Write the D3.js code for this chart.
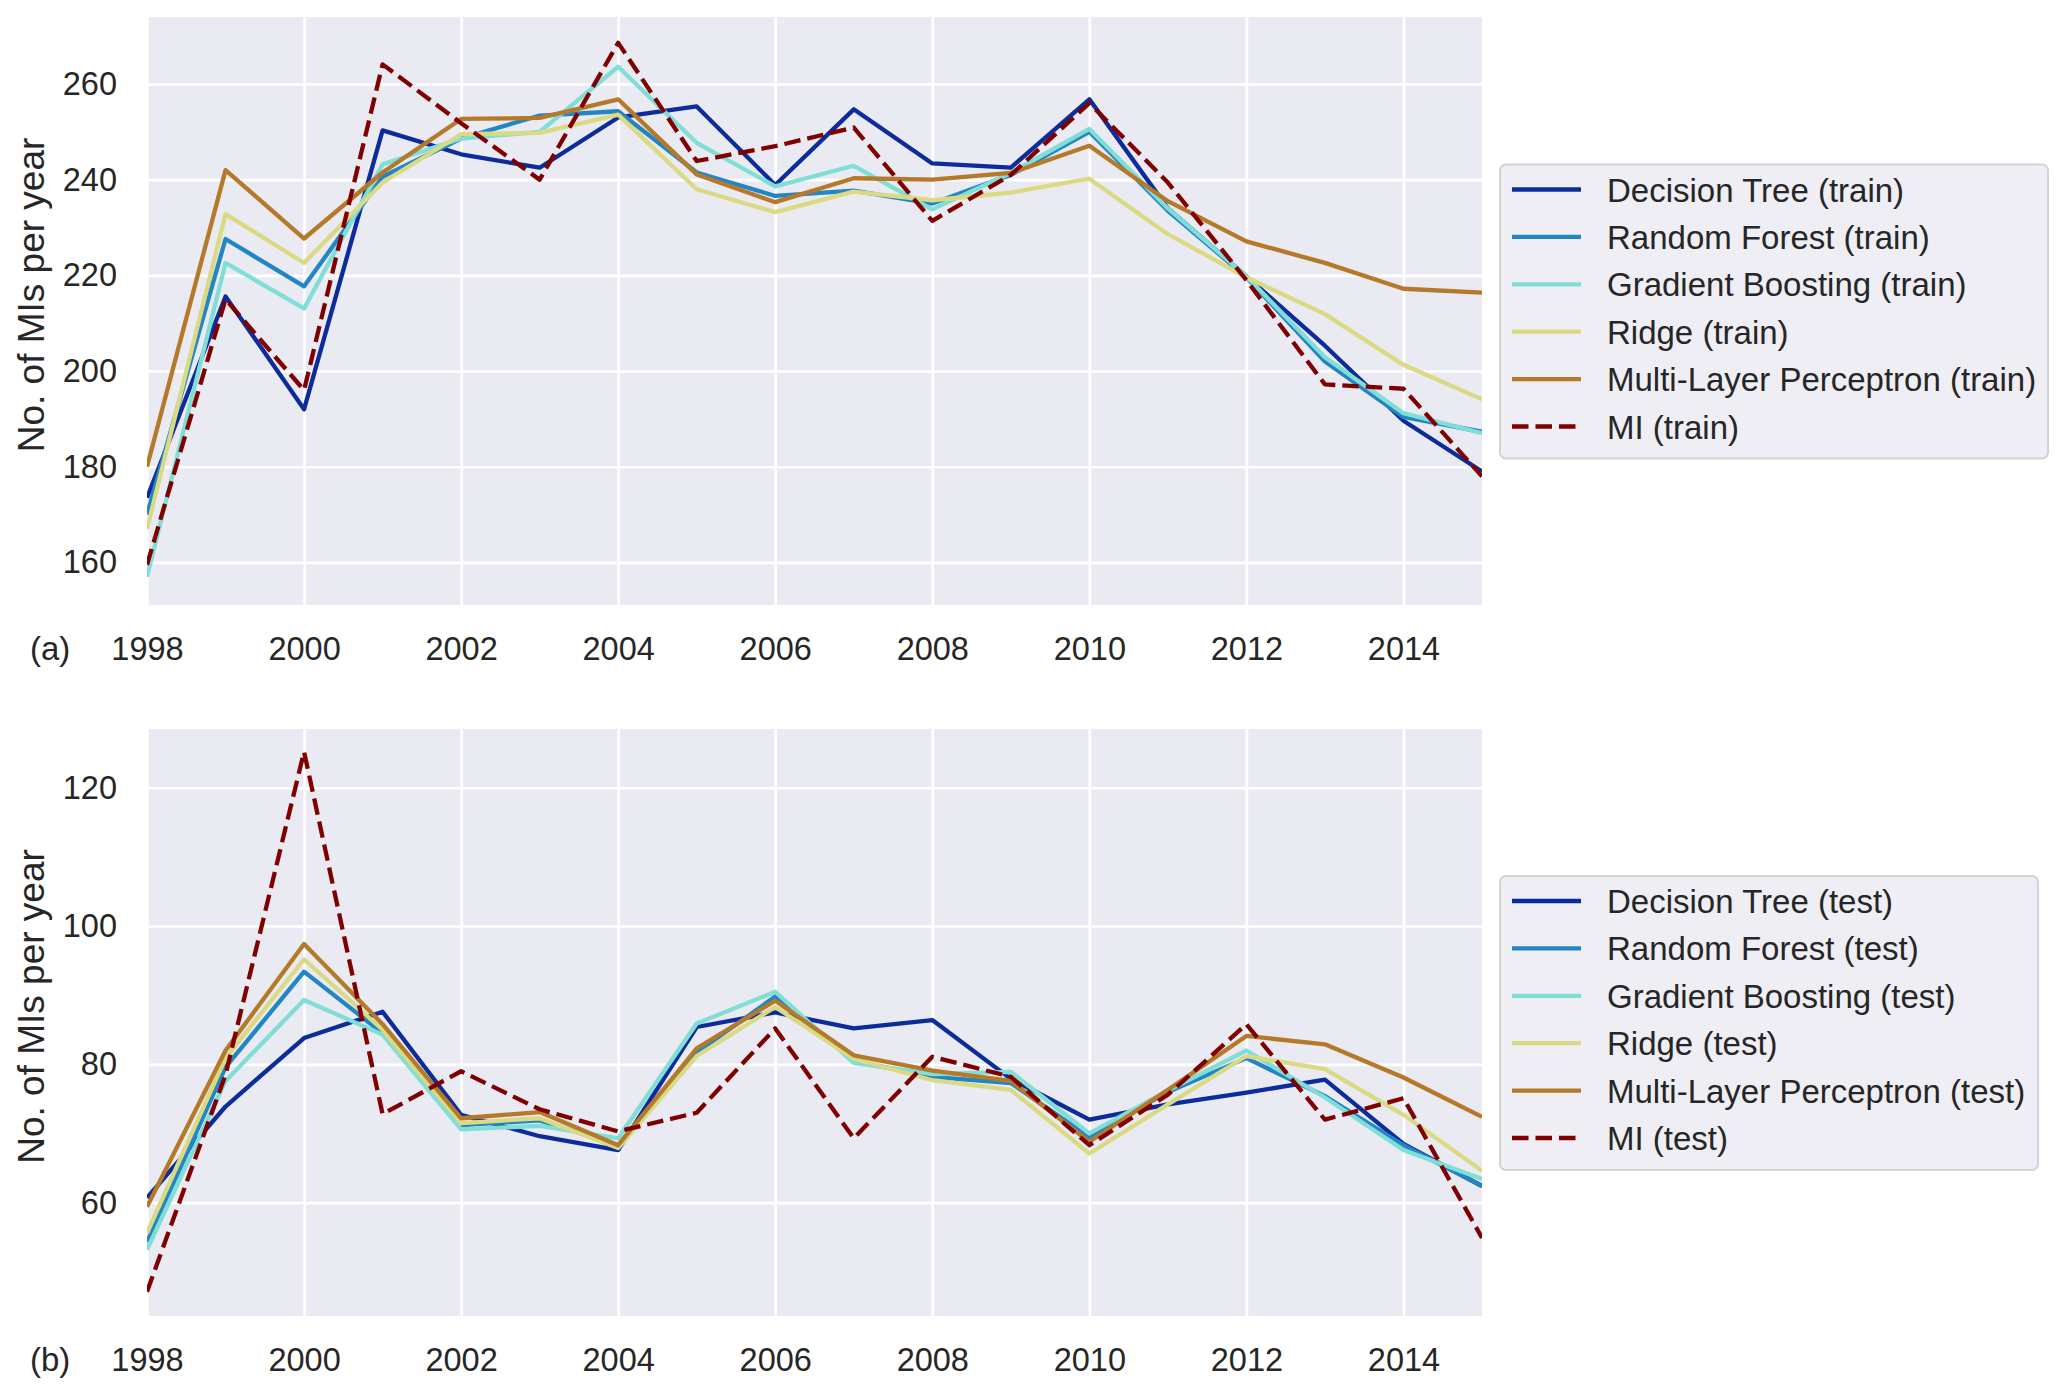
<!DOCTYPE html>
<html>
<head>
<meta charset="utf-8">
<script src="https://cdn.jsdelivr.net/npm/d3@7/dist/d3.min.js"></script>
<style>
  body { margin: 0; background: #fff; }
  svg { display: block; font-family: "Liberation Sans", Arial, sans-serif; }
</style>
</head>
<body>
<svg id="chart" width="2067" height="1392"></svg>
<script>
// years on the x axis
const years = [1998, 1999, 2000, 2001, 2002, 2003, 2004, 2005, 2006, 2007, 2008, 2009, 2010, 2011, 2012, 2013, 2014, 2015];
const xTicks = [1998, 2000, 2002, 2004, 2006, 2008, 2010, 2012, 2014];

const models = ["Decision Tree", "Random Forest", "Gradient Boosting", "Ridge", "Multi-Layer Perceptron", "MI"];

// (a) train
const trainDT    = [173.5, 215.6, 192, 250.3, 245.3, 242.5, 253, 255.3, 238.9, 254.7, 243.4, 242.5, 256.8, 234, 219.8, 205.3, 189.6, 179];
const trainRF    = [170, 227.6, 217.7, 240.6, 248.6, 253.4, 254.3, 241.5, 236.6, 237.7, 235, 241, 250, 233.5, 219.6, 202, 190.4, 187.3];
const trainGB    = [157, 222.6, 213.1, 243.2, 248.6, 250, 263.6, 247.7, 238.6, 242.9, 233.8, 241.4, 250.6, 234, 219.8, 202.9, 191.2, 187];
const trainRidge = [167, 232.8, 222.6, 239.4, 249.5, 249.8, 253.6, 238, 233.2, 237.5, 235.7, 237.3, 240.2, 228.6, 219.6, 211.9, 201.3, 194.1];
const trainMLP   = [180, 242, 227.7, 241.5, 252.7, 252.9, 256.8, 241.1, 235.3, 240.3, 240, 241.4, 247.1, 235.5, 227.1, 222.6, 217.2, 216.4];
const trainMI    = [159.5, 215, 196, 264.1, 251.8, 240, 268.6, 243.9, 247, 250.9, 231.4, 241, 256, 239.4, 219, 197.2, 196.3, 178];
const trainTicks = [160, 180, 200, 220, 240, 260];

// (b) test
const testDT    = [60.7, 73.9, 83.8, 87.6, 72.7, 69.6, 67.6, 85.4, 87.5, 85.2, 86.4, 77.9, 72, 74.2, 75.9, 77.8, 68.5, 62.4];
const testRF    = [54.3, 79.6, 93.4, 84.5, 71.2, 71.9, 68.3, 81.7, 89.8, 80.5, 78.2, 77.3, 69.5, 76, 80.9, 75.4, 68.3, 62.4];
const testGB    = [53.2, 77.6, 89.3, 84.3, 70.6, 71.1, 69.3, 85.9, 90.5, 80.2, 78.6, 78.9, 70, 76.2, 82, 75.2, 67.6, 63.4];
const testRidge = [55.6, 80.9, 95.2, 85, 71.5, 72.2, 67.9, 81.2, 88.3, 80.8, 77.7, 76.3, 67.1, 74.2, 81.2, 79.3, 72.7, 64.6];
const testMLP   = [59.4, 82, 97.4, 85.8, 72.2, 73.1, 68.3, 82.3, 89.2, 81.3, 79.1, 77.6, 68.8, 76.3, 84.1, 82.9, 78.1, 72.4];
const testMI    = [47.1, 78.5, 125.2, 72.8, 79, 73.5, 70.3, 73, 85.2, 69.3, 81.1, 78.2, 68.3, 75.6, 85.8, 72, 75.1, 54.9];
const testTicks = [60, 80, 100, 120];

const colors = ["#0c2c9c", "#2386c4", "#80ded6", "#dada84", "#b5792a", "#800000"];
const textColor = "#262626";

const svg = d3.select("#chart");

function drawPanel(opt) {
  const { left, right, top, bottom, domain, series, yTicks, tag, suffix, legendTop } = opt;
  const w = right - left, h = bottom - top;

  const x = d3.scaleLinear().domain([1998, 2015]).range([0, w]);
  const y = d3.scaleLinear().domain(domain).range([h, 0]);

  const g = svg.append("g").attr("transform", `translate(${left},${top})`);

  g.append("rect").attr("width", w).attr("height", h).attr("fill", "#eaeaf2");

  // x grid + labels
  const xAxisGroup = g.append("g")
    .attr("transform", `translate(0,${h})`)
    .call(d3.axisBottom(x).tickValues(xTicks).tickFormat(d3.format("d")).tickSize(-h).tickPadding(32));
  xAxisGroup.select(".domain").remove();

  // y grid + labels
  const yAxisGroup = g.append("g")
    .call(d3.axisLeft(y).tickValues(yTicks).tickSize(-w).tickPadding(30));
  yAxisGroup.select(".domain").remove();

  [xAxisGroup, yAxisGroup].forEach((ax) => {
    ax.selectAll("line").attr("stroke", "#fff").attr("stroke-width", 2.6);
    ax.selectAll("text")
      .attr("fill", textColor)
      .attr("font-size", 32.5)
      .attr("font-family", "Liberation Sans, Arial, sans-serif");
  });

  g.append("clipPath").attr("id", "clip" + tag)
    .append("rect").attr("width", w).attr("height", h);

  const line = d3.line()
    .x((d, i) => x(years[i]))
    .y((d) => y(d));

  const lines = g.append("g").attr("clip-path", `url(#clip${tag})`);
  series.forEach((vals, i) => {
    lines.append("path")
      .datum(vals)
      .attr("fill", "none")
      .attr("stroke", colors[i])
      .attr("stroke-width", 4.3)
      .attr("stroke-linejoin", "round")
      .attr("stroke-dasharray", i === 5 ? "16.5,7" : null)
      .attr("d", line);
  });

  // y label
  svg.append("text")
    .attr("transform", `translate(44,${top + h / 2 - 16}) rotate(-90)`)
    .attr("text-anchor", "middle")
    .attr("font-size", 37)
    .attr("fill", textColor)
    .text("No. of MIs per year");

  // panel tag
  svg.append("text")
    .attr("x", 30)
    .attr("y", bottom + 55)
    .attr("font-size", 33)
    .attr("fill", textColor)
    .text(`(${tag})`);

  // legend
  const rowGap = 47.4;
  const lg = svg.append("g").attr("transform", `translate(1500,${legendTop})`);
  const labels = models.map((m) => `${m} (${suffix})`);
  lg.append("rect")
    .attr("width", opt.legendWidth)
    .attr("height", 294)
    .attr("rx", 6)
    .attr("fill", "#eeeef4")
    .attr("stroke", "#d2d2d6")
    .attr("stroke-width", 2);
  labels.forEach((lab, i) => {
    const ry = 25 + i * rowGap;
    lg.append("line")
      .attr("x1", 12).attr("x2", 81)
      .attr("y1", ry).attr("y2", ry)
      .attr("stroke", colors[i])
      .attr("stroke-width", 4.3)
      .attr("stroke-dasharray", i === 5 ? "16.5,7" : null);
    lg.append("text")
      .attr("x", 107)
      .attr("y", ry + 12)
      .attr("font-size", 33)
      .attr("fill", textColor)
      .text(lab);
  });
}

drawPanel({
  left: 147, right: 1482, top: 17, bottom: 605,
  domain: [151.1, 274.0],
  series: [trainDT, trainRF, trainGB, trainRidge, trainMLP, trainMI],
  yTicks: trainTicks, tag: "a", suffix: "train",
  legendTop: 164.5, legendWidth: 548
});

drawPanel({
  left: 147, right: 1482, top: 729, bottom: 1316,
  domain: [43.6, 128.5],
  series: [testDT, testRF, testGB, testRidge, testMLP, testMI],
  yTicks: testTicks, tag: "b", suffix: "test",
  legendTop: 876, legendWidth: 538
});
</script>
</body>
</html>
